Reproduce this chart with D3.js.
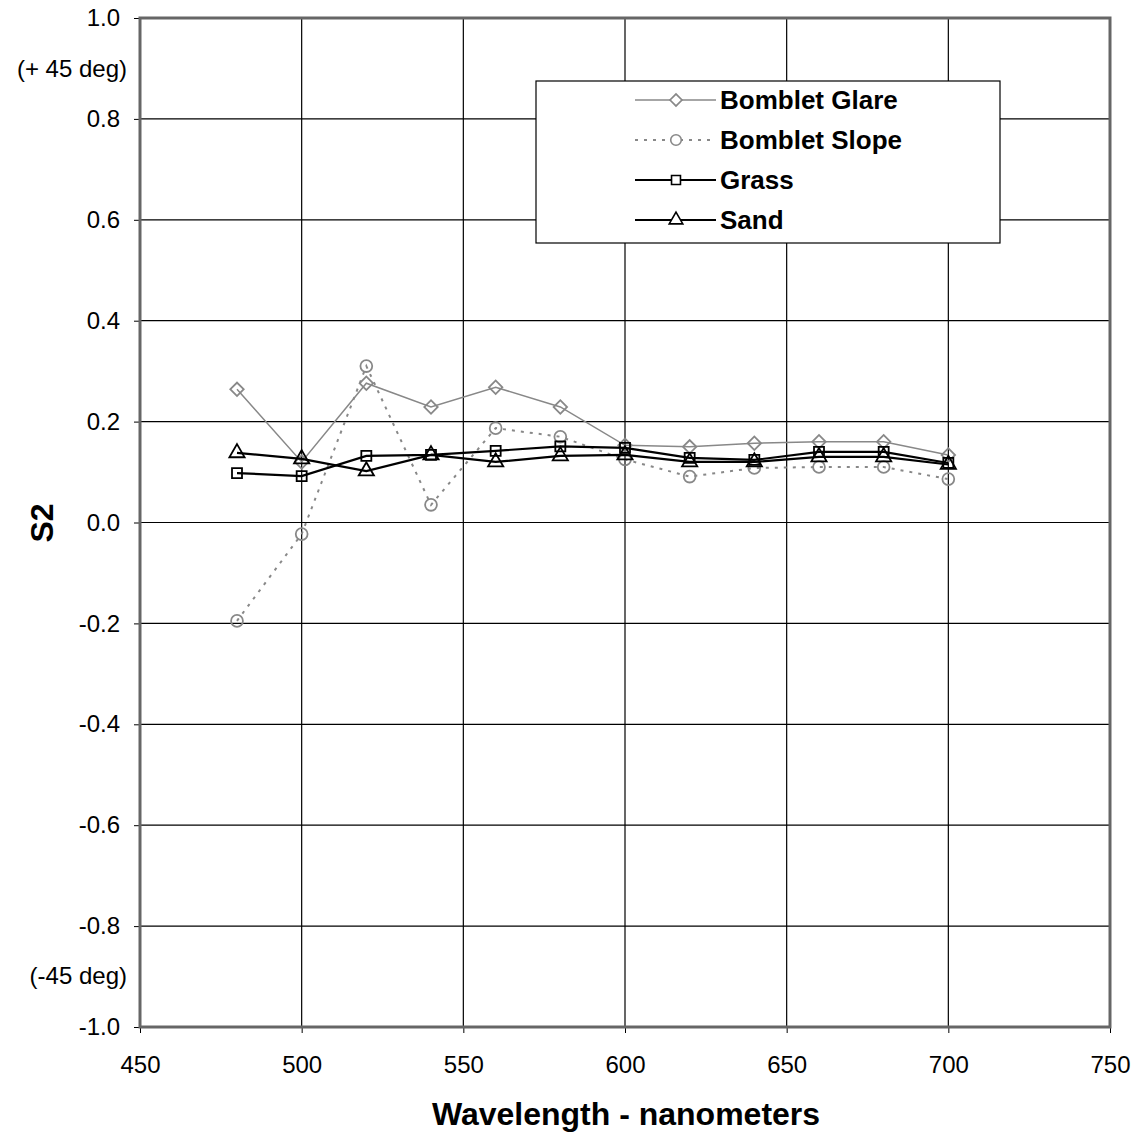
<!DOCTYPE html>
<html><head><meta charset="utf-8">
<script src="https://cdn.jsdelivr.net/npm/d3@7"></script>
<style>body{margin:0;background:#fff}svg{display:block}text{font-family:"Liberation Sans",Arial,sans-serif}</style>
</head><body><svg id="c" width="1137" height="1139"></svg>
<script>
const wavelengths = [480,500,520,540,560,580,600,620,640,660,680,700];
const bombletGlare = [0.264,0.120,0.276,0.229,0.268,0.229,0.153,0.150,0.157,0.160,0.160,0.134];
const bombletSlope = [-0.195,-0.023,0.310,0.035,0.187,0.170,0.125,0.091,0.108,0.110,0.110,0.086];
const grass = [0.098,0.092,0.132,0.134,0.142,0.151,0.148,0.128,0.124,0.140,0.140,0.118];
const sand = [0.138,0.126,0.102,0.134,0.120,0.132,0.134,0.120,0.120,0.130,0.130,0.115];
const seriesNames = ["Bomblet Glare","Bomblet Slope","Grass","Sand"];
const xTicks = [450,500,550,600,650,700,750];
const yTicks = [1.0,0.8,0.6,0.4,0.2,0.0,-0.2,-0.4,-0.6,-0.8,-1.0];

const svg = d3.select("#c");
const L=140,R=1110,T=18,B=1027;
const x = d3.scaleLinear().domain([450,750]).range([L,R]);
const y = d3.scaleLinear().domain([-1,1]).range([B,T]);

// gridlines
svg.append("g").selectAll("line").data(xTicks.slice(1,-1)).join("line")
  .attr("x1",d=>x(d)).attr("x2",d=>x(d)).attr("y1",T).attr("y2",B)
  .attr("stroke","#000").attr("stroke-width",1.2);
svg.append("g").selectAll("line").data(yTicks.slice(1,-1)).join("line")
  .attr("x1",L).attr("x2",R).attr("y1",d=>y(d)).attr("y2",d=>y(d))
  .attr("stroke","#000").attr("stroke-width",1.2);

// axes
const fmtY = d => d3.format(".1f")(d).replace("\u2212","-");
const ya = svg.append("g").attr("transform",`translate(${L},0)`)
  .call(d3.axisLeft(y).tickValues(yTicks).tickFormat(fmtY).tickSize(6).tickSizeOuter(0));
ya.attr("font-family","Liberation Sans, Arial, sans-serif").attr("font-size",24);
ya.select(".domain").remove();
ya.selectAll("text").attr("x",-20).attr("fill","#000");
const xa = svg.append("g").attr("transform",`translate(0,${B})`)
  .call(d3.axisBottom(x).tickValues(xTicks).tickFormat(d3.format("d")).tickSize(6).tickSizeOuter(0));
xa.attr("font-family","Liberation Sans, Arial, sans-serif").attr("font-size",24);
xa.select(".domain").remove();
xa.selectAll("text").attr("y",29).attr("fill","#000");

// frame
svg.append("rect").attr("x",L).attr("y",T).attr("width",R-L).attr("height",B-T)
  .attr("fill","none").attr("stroke","#666").attr("stroke-width",3);

svg.append("text").attr("x",127).attr("y",77).attr("text-anchor","end").attr("font-size",24).text("(+ 45 deg)");
svg.append("text").attr("x",127).attr("y",984).attr("text-anchor","end").attr("font-size",24).text("(-45 deg)");

svg.append("text").attr("x",626).attr("y",1125).attr("text-anchor","middle")
  .attr("font-size",32).attr("font-weight","bold").text("Wavelength - nanometers");
svg.append("text").attr("transform","translate(53,523) rotate(-90)").attr("text-anchor","middle")
  .attr("font-size",32).attr("font-weight","bold").text("S2");

const styles = [
  {data:bombletGlare, stroke:"#888", w:1.5, dash:null, sym:d3.symbolSquare, rot:45, size:90, mstroke:"#888"},
  {data:bombletSlope, stroke:"#888", w:2, dash:"3,6", sym:d3.symbolCircle, rot:0, size:110, mstroke:"#888"},
  {data:grass, stroke:"#000", w:2.2, dash:null, sym:d3.symbolSquare, rot:0, size:100, mstroke:"#000"},
  {data:sand, stroke:"#000", w:2.2, dash:null, sym:d3.symbolTriangle, rot:0, size:100, mstroke:"#000"}
];
const line = d3.line().x((d,i)=>x(wavelengths[i])).y(d=>y(d));
styles.forEach(s=>{
  const g = svg.append("g");
  g.append("path").datum(s.data).attr("d",line).attr("fill","none")
    .attr("stroke",s.stroke).attr("stroke-width",s.w).attr("stroke-dasharray",s.dash);
  g.selectAll("path.m").data(s.data).join("path").attr("class","m")
    .attr("transform",(d,i)=>`translate(${x(wavelengths[i])},${y(d)}) rotate(${s.rot})`)
    .attr("d",d3.symbol(s.sym,s.size)).attr("fill","none")
    .attr("stroke",s.mstroke).attr("stroke-width",1.8);
});

// legend
const lg = svg.append("g");
lg.append("rect").attr("x",536).attr("y",81).attr("width",464).attr("height",162)
  .attr("fill","#fff").attr("stroke","#000").attr("stroke-width",1.2);
styles.forEach((s,i)=>{
  const yy = 100 + i*40;
  lg.append("line").attr("x1",635).attr("x2",716).attr("y1",yy).attr("y2",yy)
    .attr("stroke",s.stroke).attr("stroke-width",s.w).attr("stroke-dasharray",s.dash);
  lg.append("path").attr("transform",`translate(676,${yy}) rotate(${s.rot})`).attr("d",d3.symbol(s.sym,s.size*0.8))
    .attr("fill","#fff").attr("stroke",s.mstroke).attr("stroke-width",1.6);
  lg.append("text").attr("x",720).attr("y",yy+9).attr("font-size",26).attr("font-weight","bold").text(seriesNames[i]);
});
</script></body></html>
